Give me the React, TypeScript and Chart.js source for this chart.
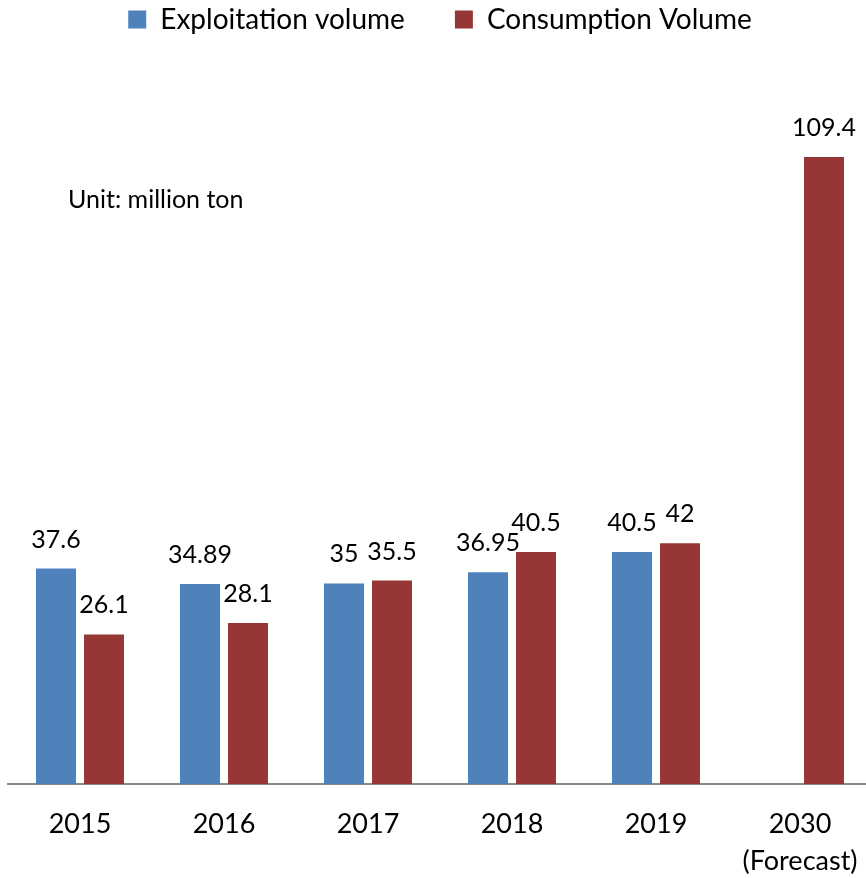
import React, { useEffect, useRef } from "react";
import { Chart, registerables } from "chart.js";

Chart.register(...registerables);

const categories: (string | string[])[] = ["2015", "2016", "2017", "2018", "2019", ["2030", "(Forecast)"]];
const exploitation: (number | null)[] = [37.6, 34.89, 35, 36.95, 40.5, null];
const consumption: number[] = [26.1, 28.1, 35.5, 40.5, 42, 109.4];
const seriesNames = ["Exploitation volume", "Consumption Volume"];
const unitNote = "Unit: million ton";

const FONT = "Lato, 'Open Sans', sans-serif";

const labelPlugin = {
  id: "valueLabels",
  afterDatasetsDraw(chart: any) {
    const ctx = chart.ctx;
    ctx.save();
    ctx.font = `25px ${FONT}`;
    ctx.fillStyle = "#000";
    ctx.textAlign = "center";
    ctx.textBaseline = "alphabetic";
    chart.data.datasets.forEach((ds: any, di: number) => {
      const meta = chart.getDatasetMeta(di);
      meta.data.forEach((el: any, i: number) => {
        const v = ds.data[i];
        if (v === null || v === undefined) return;
        ctx.fillText(String(v), el.x, el.y - 21);
      });
    });
    ctx.font = `25px ${FONT}`;
    ctx.textAlign = "left";
    ctx.fillText(unitNote, 68, 208);
    ctx.restore();
  },
};

export default function App() {
  const ref = useRef<HTMLCanvasElement>(null);
  useEffect(() => {
    if (!ref.current) return;
    const chart = new Chart(ref.current, {
      type: "bar",
      data: {
        labels: categories,
        datasets: [
          {
            label: seriesNames[0],
            data: exploitation,
            backgroundColor: "#4F81BD",
            categoryPercentage: 0.6667,
            barPercentage: 0.833,
          },
          {
            label: seriesNames[1],
            data: consumption,
            backgroundColor: "#953735",
            categoryPercentage: 0.6667,
            barPercentage: 0.833,
          },
        ],
      },
      options: {
        responsive: false,
        animation: false,
        devicePixelRatio: 1,
        layout: { padding: { left: 8, right: 0, top: -44.5, bottom: 0 } },
        plugins: {
          legend: {
            position: "top",
            labels: {
              font: { family: FONT, size: 28 },
              color: "#000",
              boxWidth: 18,
              boxHeight: 18,
              padding: 50,
            },
          },
          tooltip: { enabled: false },
        },
        scales: {
          x: {
            grid: { display: false },
            border: { display: true, color: "#888888", width: 2 },
            ticks: {
              color: "#000",
              font: { family: FONT, size: 27, lineHeight: 1.37 },
              padding: 14,
              maxRotation: 0,
              autoSkip: false,
            },
          },
          y: {
            display: false,
            min: 0,
            max: 129.2,
          },
        },
      },
      plugins: [labelPlugin],
    });
    return () => chart.destroy();
  }, []);
  return (
    <div style={{ position: "fixed", left: 0, top: 0, width: 866, height: 878, overflow: "hidden", background: "#fff" }}>
      <canvas ref={ref} width={872} height={894} style={{ display: "block", width: 872, height: 894 }} />
    </div>
  );
}
